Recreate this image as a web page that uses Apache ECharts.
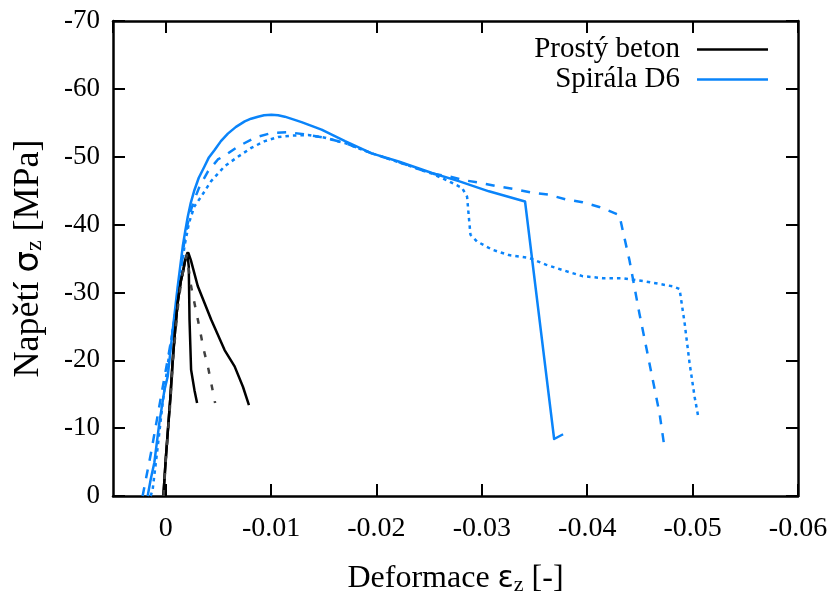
<!DOCTYPE html>
<html>
<head>
<meta charset="utf-8">
<script src="https://cdn.jsdelivr.net/npm/echarts@6/dist/echarts.min.js"></script>
<style>
  html, body { margin: 0; padding: 0; background: #fff; }
  #chart { width: 835px; height: 594px; }
</style>
</head>
<body>
<div id="chart"></div>
<script>
// Axis ticks
const strainTicks = [0, -0.01, -0.02, -0.03, -0.04, -0.05, -0.06];
const stressTicks = [0, -10, -20, -30, -40, -50, -60, -70];

// Series names
const namePlain = 'Prostý beton';
const nameSpiral = 'Spirála D6';

// Plain concrete specimens: [strain, stress MPa]
const plainA = [
  [0.00022, 0], [0.0, -5.3], [-0.00019, -9.3], [-0.00043, -14.2], [-0.00067, -20.1],
  [-0.0009, -24.5], [-0.00114, -28.5], [-0.00143, -31.6], [-0.00162, -32.9],
  [-0.00186, -34.8], [-0.00205, -35.8], [-0.00219, -33.8], [-0.00226, -26.0],
  [-0.00241, -18.6], [-0.00273, -15.6], [-0.00298, -13.7]
];
const plainB = [
  [0.00022, 0], [0.0, -5.3], [-0.00019, -9.3], [-0.00043, -14.2], [-0.00067, -20.1],
  [-0.0009, -24.5], [-0.00114, -28.5], [-0.00143, -31.6], [-0.00162, -32.9],
  [-0.00186, -34.8], [-0.00216, -35.8], [-0.00238, -34.8], [-0.00305, -30.9],
  [-0.00431, -26.0], [-0.00559, -21.5], [-0.00654, -19.1], [-0.00733, -16.1],
  [-0.0079, -13.4]
];
const plainC = [
  [0.0002, 0], [0.0, -5.0], [-0.0002, -9.0], [-0.00045, -14.0], [-0.0007, -20.0],
  [-0.00095, -24.5], [-0.0012, -28.5], [-0.00148, -31.6], [-0.00175, -34.0],
  [-0.002, -35.5], [-0.00241, -30.9], [-0.00305, -26.0], [-0.00362, -21.5],
  [-0.00407, -18.6], [-0.00469, -13.7]
];

// Spiral-confined specimens: [strain, stress MPa]
const spiralA = [
  [0.00171, 0], [0.00143, -2.4], [0.00108, -4.9], [0.0006, -10.8], [0.00012, -15.6],
  [-0.00019, -17.6], [-0.00067, -24.5], [-0.00114, -30.9], [-0.00162, -36.8],
  [-0.00186, -39.1], [-0.0021, -41.2], [-0.00238, -43.2], [-0.00273, -45.1],
  [-0.00314, -46.9], [-0.00369, -48.6], [-0.0041, -49.9], [-0.00464, -51.0],
  [-0.00524, -52.3], [-0.0059, -53.4], [-0.00667, -54.4], [-0.0075, -55.2],
  [-0.0081, -55.6], [-0.00876, -55.9], [-0.00933, -56.1], [-0.01003, -56.2],
  [-0.01067, -56.1], [-0.0113, -55.9], [-0.0121, -55.5], [-0.01289, -55.1],
  [-0.01479, -54.0], [-0.01702, -52.3], [-0.01955, -50.5], [-0.0221, -49.3],
  [-0.02527, -47.6], [-0.02781, -46.4], [-0.03067, -44.9], [-0.0341, -43.4],
  [-0.03686, -8.4], [-0.03771, -9.1]
];
const spiralB = [
  [0.00219, 0], [0.0014, -6.3], [0.00045, -14.6], [-0.00019, -20.1], [-0.00086, -26.0],
  [-0.00133, -31.1], [-0.00178, -37.8], [-0.0021, -40.2], [-0.00241, -42.2],
  [-0.0028, -44.0], [-0.00321, -45.6], [-0.004, -47.8], [-0.00495, -49.6],
  [-0.00574, -50.3], [-0.00686, -51.5], [-0.00845, -52.8], [-0.01003, -53.5],
  [-0.01162, -53.6], [-0.01321, -53.3], [-0.01511, -52.8], [-0.01702, -52.0],
  [-0.01955, -50.5], [-0.0221, -49.2], [-0.02527, -47.5], [-0.02686, -47.1],
  [-0.02845, -46.5], [-0.03003, -46.1], [-0.03162, -45.6], [-0.03321, -45.2],
  [-0.03479, -44.7], [-0.03638, -44.4], [-0.03797, -43.7], [-0.03955, -43.3],
  [-0.04114, -42.6], [-0.04305, -41.4], [-0.04336, -39.2], [-0.044, -34.8],
  [-0.04495, -26.9], [-0.04559, -22.0], [-0.04622, -17.1], [-0.04686, -12.2],
  [-0.04727, -7.8]
];
const spiralC = [
  [0.00143, 0], [0.00124, -0.9], [0.00076, -7.2], [0.00029, -13.7], [-0.00019, -19.3],
  [-0.00067, -24.5], [-0.00114, -29.6], [-0.00152, -33.6], [-0.00178, -36.8],
  [-0.00222, -40.3], [-0.00273, -42.7], [-0.00336, -44.1], [-0.00431, -46.4],
  [-0.00559, -48.6], [-0.00686, -50.0], [-0.00812, -51.3], [-0.0094, -52.3],
  [-0.01067, -52.9], [-0.01193, -53.1], [-0.01352, -53.2], [-0.01511, -52.8],
  [-0.01702, -52.0], [-0.01955, -50.5], [-0.0221, -49.2], [-0.02527, -47.5],
  [-0.02686, -46.4], [-0.02812, -45.4], [-0.0286, -44.1], [-0.02876, -41.2],
  [-0.02892, -38.5], [-0.02955, -37.5], [-0.03098, -36.3], [-0.03257, -35.5],
  [-0.03448, -35.1], [-0.03607, -34.1], [-0.03765, -33.3], [-0.03955, -32.4],
  [-0.04146, -32.1], [-0.04336, -32.1], [-0.04559, -31.6], [-0.04812, -30.9],
  [-0.04876, -30.5], [-0.04924, -25.5], [-0.04971, -19.6], [-0.05019, -14.6],
  [-0.05051, -11.9]
];

const FONT = "'Liberation Serif', 'Times New Roman', serif";
const GREEK = "'DejaVu Sans', 'Noto Sans', sans-serif";
const BLUE = '#0a84fa';
const BLACK = '#000000';
const GREY = '#404040';

function lineSeries(name, data, color, type) {
  return {
    name: name,
    type: 'line',
    data: data,
    showSymbol: false,
    symbol: 'none',
    smooth: false,
    animation: false,
    color: color,
    lineStyle: { color: color, width: 2.5, type: type, cap: 'butt', join: 'round' },
    emphasis: { disabled: true }
  };
}

function frameAxis(extra) {
  return Object.assign({
    axisLine: { show: true, onZero: false, lineStyle: { color: '#000', width: 2.5 } },
    axisTick: { show: true, inside: true, length: 12, lineStyle: { color: '#000', width: 2 } },
    splitLine: { show: false }
  }, extra);
}

function titleRich(size) {
  return {
    rich: {
      a: { fontFamily: FONT, fontSize: size, color: '#000' },
      g: { fontFamily: GREEK, fontSize: size - 2, color: '#000' },
      s: { fontFamily: FONT, fontSize: Math.round(size * 0.68), color: '#000', padding: [12, 0, 0, 0] }
    }
  };
}

const option = {
  animation: false,
  backgroundColor: '#fff',
  grid: { left: 113, right: 37, top: 21, bottom: 98, containLabel: false, outerBoundsMode: 'none' },
  legend: {
    orient: 'vertical',
    right: 62,
    top: 30,
    align: 'right',
    icon: 'rect',
    itemWidth: 71,
    itemHeight: 2.5,
    itemGap: 1,
    selectedMode: false,
    data: [namePlain, nameSpiral],
    textStyle: { fontFamily: FONT, fontSize: 29, color: '#000', lineHeight: 26, padding: [0, 12, 0, 0] }
  },
  xAxis: [
    frameAxis({
      type: 'value',
      position: 'bottom',
      min: -0.06,
      max: 0.005,
      interval: 0.01,
      inverse: true,
      name: '{a|Deformace }{g|ε}{s|z}{a| [-]}',
      nameLocation: 'middle',
      nameGap: 66,
      nameTextStyle: titleRich(32),
      axisLabel: {
        show: true,
        margin: 19,
        showMaxLabel: false,
        fontFamily: FONT,
        fontSize: 28,
        color: '#000',
        formatter: v => String(Math.round(v * 100) / 100)
      }
    }),
    frameAxis({
      type: 'value',
      position: 'top',
      min: -0.06,
      max: 0.005,
      interval: 0.01,
      inverse: true,
      axisLabel: { show: false }
    })
  ],
  yAxis: [
    frameAxis({
      type: 'value',
      position: 'left',
      min: -70,
      max: 0,
      interval: 10,
      inverse: true,
      name: '{a|Napětí }{g|σ}{s|z}{a| [MPa]}',
      nameLocation: 'middle',
      nameGap: 66,
      nameRotate: 90,
      nameTextStyle: titleRich(36),
      axisLabel: {
        show: true,
        margin: 13,
        padding: [6, 0, 0, 0],
        fontFamily: FONT,
        fontSize: 27,
        color: '#000'
      }
    }),
    frameAxis({
      type: 'value',
      position: 'right',
      min: -70,
      max: 0,
      interval: 10,
      inverse: true,
      axisLabel: { show: false }
    })
  ],
  series: [
    lineSeries(nameSpiral, spiralA, BLUE, 'solid'),
    lineSeries(nameSpiral, spiralB, BLUE, [9, 9]),
    lineSeries(nameSpiral, spiralC, BLUE, [3.5, 4]),
    lineSeries(namePlain, plainA, BLACK, 'solid'),
    lineSeries(namePlain, plainB, BLACK, 'solid'),
    lineSeries(namePlain, plainC, GREY, [6, 11])
  ]
};

const chart = echarts.init(document.getElementById('chart'), null, { renderer: 'canvas' });
chart.setOption(option);
</script>
</body>
</html>
